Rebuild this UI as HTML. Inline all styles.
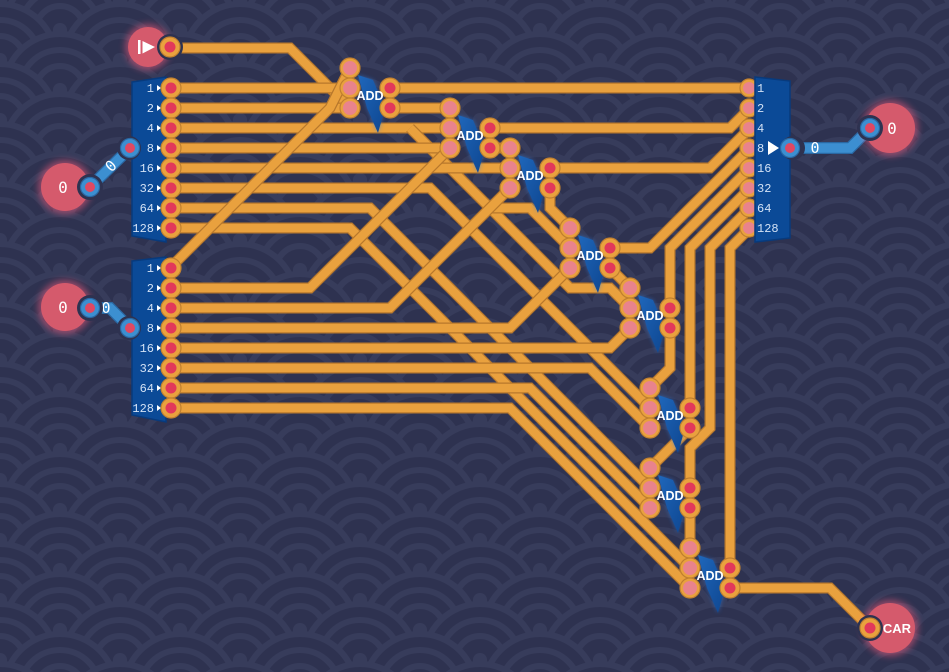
<!DOCTYPE html>
<html><head><meta charset="utf-8"><style>
html,body{margin:0;padding:0;background:#2e3250;}
svg{display:block}
.b{fill:none;stroke:#b8782c;stroke-width:11;stroke-linejoin:miter;stroke-linecap:butt}
.f{fill:none;stroke:#e9a13e;stroke-width:8.5;stroke-linejoin:miter;stroke-linecap:butt}
.bb{fill:none;stroke:#2a68a3;stroke-width:12;stroke-linejoin:miter;stroke-linecap:round}
.bf{fill:none;stroke:#3c8fd1;stroke-width:9.5;stroke-linejoin:miter;stroke-linecap:round}
.num{font-family:"Liberation Mono","DejaVu Sans Mono",monospace;font-size:12px;fill:#d3e2f5}
.add{font-family:"Liberation Sans",sans-serif;font-size:12.5px;font-weight:bold;fill:#ffffff;text-anchor:middle}
.big{font-family:"DejaVu Sans Mono","Liberation Mono",monospace;font-size:16px;fill:#ffffff;text-anchor:middle}
.wl{font-family:"DejaVu Sans Mono","Liberation Mono",monospace;font-size:15px;fill:#ffffff;text-anchor:middle}
</style></head><body>
<svg width="949" height="672" viewBox="0 0 949 672" xmlns="http://www.w3.org/2000/svg">
<defs>
<pattern id="waves" width="120" height="60" patternUnits="userSpaceOnUse">
<rect width="120" height="60" fill="#2e3250"/>
<g fill="#2e3250" stroke="#373c5b" stroke-width="6">
<g transform="translate(60,-30)"><circle r="56"/><circle r="40"/><circle r="24"/><circle r="7" fill="#373c5b" stroke="none"/></g>
<g transform="translate(0,0)"><circle r="56"/><circle r="40"/><circle r="24"/><circle r="7" fill="#373c5b" stroke="none"/></g>
<g transform="translate(120,0)"><circle r="56"/><circle r="40"/><circle r="24"/><circle r="7" fill="#373c5b" stroke="none"/></g>
<g transform="translate(60,30)"><circle r="56"/><circle r="40"/><circle r="24"/><circle r="7" fill="#373c5b" stroke="none"/></g>
<g transform="translate(0,60)"><circle r="56"/><circle r="40"/><circle r="24"/><circle r="7" fill="#373c5b" stroke="none"/></g>
<g transform="translate(120,60)"><circle r="56"/><circle r="40"/><circle r="24"/><circle r="7" fill="#373c5b" stroke="none"/></g>
<g transform="translate(60,90)"><circle r="56"/><circle r="40"/><circle r="24"/><circle r="7" fill="#373c5b" stroke="none"/></g>
</g>
</pattern>
<filter id="blur" x="-60%" y="-60%" width="220%" height="220%"><feGaussianBlur stdDeviation="3.5"/></filter>
<filter id="blur2" x="-60%" y="-60%" width="220%" height="220%"><feGaussianBlur stdDeviation="2"/></filter>
<linearGradient id="flag" x1="0" y1="0" x2="1" y2="1">
<stop offset="0" stop-color="#1f67bb"/><stop offset="1" stop-color="#0e4690"/>
</linearGradient>
</defs>

<rect width="949" height="672" fill="url(#waves)"/>

<!-- orange wires -->
<g>
<g><polyline class="b" points="170,48 290,48 350,108"/><polyline class="f" points="170,48 290,48 350,108"/></g>
<g><polyline class="b" points="170,88 350,88"/><polyline class="f" points="170,88 350,88"/></g>
<g><polyline class="b" points="170,108 350,108"/><polyline class="f" points="170,108 350,108"/></g>
<g><polyline class="b" points="170,128 450,128"/><polyline class="f" points="170,128 450,128"/></g>
<g><polyline class="b" points="410,128 570,288 610,288 630,308"/><polyline class="f" points="410,128 570,288 610,288 630,308"/></g>
<g><polyline class="b" points="170,148 440,148"/><polyline class="f" points="170,148 440,148"/></g>
<g><polyline class="b" points="450,168 490,208 530,208 570,248"/><polyline class="f" points="450,168 490,208 530,208 570,248"/></g>
<g><polyline class="b" points="170,168 510,168"/><polyline class="f" points="170,168 510,168"/></g>
<g><polyline class="b" points="170,188 430,188 650,408"/><polyline class="f" points="170,188 430,188 650,408"/></g>
<g><polyline class="b" points="170,208 370,208 650,488"/><polyline class="f" points="170,208 370,208 650,488"/></g>
<g><polyline class="b" points="170,228 350,228 690,568"/><polyline class="f" points="170,228 350,228 690,568"/></g>
<g><polyline class="b" points="170,268 330,108 350,68"/><polyline class="f" points="170,268 330,108 350,68"/></g>
<g><polyline class="b" points="170,288 310,288 450,148"/><polyline class="f" points="170,288 310,288 450,148"/></g>
<g><polyline class="b" points="170,308 390,308 510,188"/><polyline class="f" points="170,308 390,308 510,188"/></g>
<g><polyline class="b" points="170,328 510,328 570,268"/><polyline class="f" points="170,328 510,328 570,268"/></g>
<g><polyline class="b" points="170,348 610,348 630,328"/><polyline class="f" points="170,348 610,348 630,328"/></g>
<g><polyline class="b" points="170,368 590,368 650,428"/><polyline class="f" points="170,368 590,368 650,428"/></g>
<g><polyline class="b" points="170,388 530,388 650,508"/><polyline class="f" points="170,388 530,388 650,508"/></g>
<g><polyline class="b" points="170,408 510,408 690,588"/><polyline class="f" points="170,408 510,408 690,588"/></g>

<g><polyline class="b" points="390,88 750,88"/><polyline class="f" points="390,88 750,88"/></g>
<g><polyline class="b" points="390,108 450,108"/><polyline class="f" points="390,108 450,108"/></g>
<g><polyline class="b" points="490,128 730,128 750,108"/><polyline class="f" points="490,128 730,128 750,108"/></g>
<g><polyline class="b" points="490,148 510,148"/><polyline class="f" points="490,148 510,148"/></g>
<g><polyline class="b" points="550,168 710,168 750,128"/><polyline class="f" points="550,168 710,168 750,128"/></g>
<g><polyline class="b" points="550,188 550,208 570,228"/><polyline class="f" points="550,188 550,208 570,228"/></g>
<g><polyline class="b" points="610,248 650,248 750,148"/><polyline class="f" points="610,248 650,248 750,148"/></g>
<g><polyline class="b" points="610,268 630,288"/><polyline class="f" points="610,268 630,288"/></g>
<g><polyline class="b" points="670,308 670,248 750,168"/><polyline class="f" points="670,308 670,248 750,168"/></g>
<g><polyline class="b" points="670,328 670,368 650,388"/><polyline class="f" points="670,328 670,368 650,388"/></g>
<g><polyline class="b" points="690,408 690,248 750,188"/><polyline class="f" points="690,408 690,248 750,188"/></g>
<g><polyline class="b" points="690,428 650,468"/><polyline class="f" points="690,428 650,468"/></g>
<g><polyline class="b" points="690,488 690,448 710,428 710,248 750,208"/><polyline class="f" points="690,488 690,448 710,428 710,248 750,208"/></g>
<g><polyline class="b" points="690,508 690,548"/><polyline class="f" points="690,508 690,548"/></g>
<g><polyline class="b" points="730,568 730,248 750,228"/><polyline class="f" points="730,568 730,248 750,228"/></g>
<g><polyline class="b" points="730,588 830,588 870,628"/><polyline class="f" points="730,588 830,588 870,628"/></g>
</g>

<!-- blue wires -->
<g><polyline class="bb" points="90,187 130,148"/><polyline class="bf" points="90,187 130,148"/></g>
<g><polyline class="bb" points="90,308 110,308 130,328"/><polyline class="bf" points="90,308 110,308 130,328"/></g>
<g><polyline class="bb" points="790,148 850,148 870,128"/><polyline class="bf" points="790,148 850,148 870,128"/></g>
<text class="wl" x="111" y="171" transform="rotate(-45 111 166)">0</text>
<text class="wl" x="106" y="313">0</text>
<text class="wl" x="815" y="153">0</text>

<!-- red IO circles -->
<g>
<circle cx="148" cy="47" r="23" fill="#ff5f80" opacity=".5" filter="url(#blur)"/>
<circle cx="148" cy="47" r="20" fill="#d55a6c"/>
<circle cx="65" cy="187" r="27" fill="#ff5f80" opacity=".5" filter="url(#blur)"/>
<circle cx="65" cy="187" r="24" fill="#d55a6c"/>
<circle cx="65" cy="307" r="27" fill="#ff5f80" opacity=".5" filter="url(#blur)"/>
<circle cx="65" cy="307" r="24" fill="#d55a6c"/>
<circle cx="890" cy="128" r="28" fill="#ff5f80" opacity=".5" filter="url(#blur)"/>
<circle cx="890" cy="128" r="25" fill="#d55a6c"/>
<circle cx="890" cy="628" r="28" fill="#ff5f80" opacity=".5" filter="url(#blur)"/>
<circle cx="890" cy="628" r="25" fill="#d55a6c"/>
</g>
<!-- notches -->
<g fill="#2e3250">
<circle cx="170" cy="47" r="13"/>
<circle cx="90" cy="187" r="13"/>
<circle cx="90" cy="308" r="13"/>
<circle cx="870" cy="128" r="13"/>
<circle cx="870" cy="628" r="13"/>
</g>
<rect x="138" y="40" width="2.5" height="14" fill="#ffffff"/>
<polygon points="142.5,41 155,47 142.5,53.5" fill="#ffffff"/>
<text class="big" x="63" y="193">0</text>
<text class="big" x="63" y="313">0</text>
<text class="big" x="892" y="134">0</text>
<text x="897" y="633" font-family="Liberation Sans, sans-serif" font-size="13" font-weight="bold" fill="#ffffff" text-anchor="middle">CAR</text>

<!-- splitters -->
<polygon points="132,82 166,77 166,242 132,236" fill="#0b4a97" stroke="#083a7c" stroke-width="1.5"/>
<polygon points="132,261 166,257 166,422 132,415" fill="#0b4a97" stroke="#083a7c" stroke-width="1.5"/>
<g fill="#2e3250">
<circle cx="129" cy="148" r="12"/>
<circle cx="129" cy="328" r="12"/>
</g>
<g class="num" text-anchor="end">
<text x="154" y="92">1</text><text x="154" y="112">2</text><text x="154" y="132">4</text><text x="154" y="152">8</text>
<text x="154" y="172">16</text><text x="154" y="192">32</text><text x="154" y="212">64</text><text x="154" y="232">128</text>
<text x="154" y="272">1</text><text x="154" y="292">2</text><text x="154" y="312">4</text><text x="154" y="332">8</text>
<text x="154" y="352">16</text><text x="154" y="372">32</text><text x="154" y="392">64</text><text x="154" y="412">128</text>
</g>
<g fill="#ffffff">
<polygon points="157,85 161,88 157,91"/><polygon points="157,105 161,108 157,111"/><polygon points="157,125 161,128 157,131"/><polygon points="157,145 161,148 157,151"/>
<polygon points="157,165 161,168 157,171"/><polygon points="157,185 161,188 157,191"/><polygon points="157,205 161,208 157,211"/><polygon points="157,225 161,228 157,231"/>
<polygon points="157,265 161,268 157,271"/><polygon points="157,285 161,288 157,291"/><polygon points="157,305 161,308 157,311"/><polygon points="157,325 161,328 157,331"/>
<polygon points="157,345 161,348 157,351"/><polygon points="157,365 161,368 157,371"/><polygon points="157,385 161,388 157,391"/><polygon points="157,405 161,408 157,411"/>
</g>

<!-- ADD gates -->
<g id="adds">
<g transform="translate(350,68)"><polygon points="8,7 23,12 35,40 28,65 17,40" fill="#2f78d8" opacity=".6" filter="url(#blur2)"/><polygon points="8,7 23,12 35,40 28,65 17,40" fill="url(#flag)"/></g>
<g transform="translate(450,108)"><polygon points="8,7 23,12 35,40 28,65 17,40" fill="#2f78d8" opacity=".6" filter="url(#blur2)"/><polygon points="8,7 23,12 35,40 28,65 17,40" fill="url(#flag)"/></g>
<g transform="translate(510,148)"><polygon points="8,7 23,12 35,40 28,65 17,40" fill="#2f78d8" opacity=".6" filter="url(#blur2)"/><polygon points="8,7 23,12 35,40 28,65 17,40" fill="url(#flag)"/></g>
<g transform="translate(570,228)"><polygon points="8,7 23,12 35,40 28,65 17,40" fill="#2f78d8" opacity=".6" filter="url(#blur2)"/><polygon points="8,7 23,12 35,40 28,65 17,40" fill="url(#flag)"/></g>
<g transform="translate(630,288)"><polygon points="8,7 23,12 35,40 28,65 17,40" fill="#2f78d8" opacity=".6" filter="url(#blur2)"/><polygon points="8,7 23,12 35,40 28,65 17,40" fill="url(#flag)"/></g>
<g transform="translate(650,388)"><polygon points="8,7 23,12 35,40 28,65 17,40" fill="#2f78d8" opacity=".6" filter="url(#blur2)"/><polygon points="8,7 23,12 35,40 28,65 17,40" fill="url(#flag)"/></g>
<g transform="translate(650,468)"><polygon points="8,7 23,12 35,40 28,65 17,40" fill="#2f78d8" opacity=".6" filter="url(#blur2)"/><polygon points="8,7 23,12 35,40 28,65 17,40" fill="url(#flag)"/></g>
<g transform="translate(690,548)"><polygon points="8,7 23,12 35,40 28,65 17,40" fill="#2f78d8" opacity=".6" filter="url(#blur2)"/><polygon points="8,7 23,12 35,40 28,65 17,40" fill="url(#flag)"/></g>
</g>

<!-- pins -->
<g>
<g fill="#e9a13e" stroke="#c0802f" stroke-width="1.2">
<circle cx="170" cy="47" r="10"/>
<circle cx="171" cy="88" r="10"/><circle cx="171" cy="108" r="10"/><circle cx="171" cy="128" r="10"/><circle cx="171" cy="148" r="10"/>
<circle cx="171" cy="168" r="10"/><circle cx="171" cy="188" r="10"/><circle cx="171" cy="208" r="10"/><circle cx="171" cy="228" r="10"/>
<circle cx="171" cy="268" r="10"/><circle cx="171" cy="288" r="10"/><circle cx="171" cy="308" r="10"/><circle cx="171" cy="328" r="10"/>
<circle cx="171" cy="348" r="10"/><circle cx="171" cy="368" r="10"/><circle cx="171" cy="388" r="10"/><circle cx="171" cy="408" r="10"/>
<circle cx="870" cy="628" r="10"/>
<circle cx="390" cy="88" r="10"/><circle cx="390" cy="108" r="10"/>
<circle cx="490" cy="128" r="10"/><circle cx="490" cy="148" r="10"/>
<circle cx="550" cy="168" r="10"/><circle cx="550" cy="188" r="10"/>
<circle cx="610" cy="248" r="10"/><circle cx="610" cy="268" r="10"/>
<circle cx="670" cy="308" r="10"/><circle cx="670" cy="328" r="10"/>
<circle cx="690" cy="408" r="10"/><circle cx="690" cy="428" r="10"/>
<circle cx="690" cy="488" r="10"/><circle cx="690" cy="508" r="10"/>
<circle cx="730" cy="568" r="10"/><circle cx="730" cy="588" r="10"/>
<circle cx="350" cy="68" r="10"/><circle cx="350" cy="88" r="10"/><circle cx="350" cy="108" r="10"/>
<circle cx="450" cy="108" r="10"/><circle cx="450" cy="128" r="10"/><circle cx="450" cy="148" r="10"/>
<circle cx="510" cy="148" r="10"/><circle cx="510" cy="168" r="10"/><circle cx="510" cy="188" r="10"/>
<circle cx="570" cy="228" r="10"/><circle cx="570" cy="248" r="10"/><circle cx="570" cy="268" r="10"/>
<circle cx="630" cy="288" r="10"/><circle cx="630" cy="308" r="10"/><circle cx="630" cy="328" r="10"/>
<circle cx="650" cy="388" r="10"/><circle cx="650" cy="408" r="10"/><circle cx="650" cy="428" r="10"/>
<circle cx="650" cy="468" r="10"/><circle cx="650" cy="488" r="10"/><circle cx="650" cy="508" r="10"/>
<circle cx="690" cy="548" r="10"/><circle cx="690" cy="568" r="10"/><circle cx="690" cy="588" r="10"/>
<circle cx="749" cy="88" r="9"/><circle cx="749" cy="108" r="9"/><circle cx="749" cy="128" r="9"/><circle cx="749" cy="148" r="9"/>
<circle cx="749" cy="168" r="9"/><circle cx="749" cy="188" r="9"/><circle cx="749" cy="208" r="9"/><circle cx="749" cy="228" r="9"/>
</g>
<g fill="#e2385a">
<circle cx="170" cy="47" r="5.5"/>
<circle cx="171" cy="88" r="5.5"/><circle cx="171" cy="108" r="5.5"/><circle cx="171" cy="128" r="5.5"/><circle cx="171" cy="148" r="5.5"/>
<circle cx="171" cy="168" r="5.5"/><circle cx="171" cy="188" r="5.5"/><circle cx="171" cy="208" r="5.5"/><circle cx="171" cy="228" r="5.5"/>
<circle cx="171" cy="268" r="5.5"/><circle cx="171" cy="288" r="5.5"/><circle cx="171" cy="308" r="5.5"/><circle cx="171" cy="328" r="5.5"/>
<circle cx="171" cy="348" r="5.5"/><circle cx="171" cy="368" r="5.5"/><circle cx="171" cy="388" r="5.5"/><circle cx="171" cy="408" r="5.5"/>
<circle cx="870" cy="628" r="5.5"/>
<circle cx="390" cy="88" r="5.5"/><circle cx="390" cy="108" r="5.5"/>
<circle cx="490" cy="128" r="5.5"/><circle cx="490" cy="148" r="5.5"/>
<circle cx="550" cy="168" r="5.5"/><circle cx="550" cy="188" r="5.5"/>
<circle cx="610" cy="248" r="5.5"/><circle cx="610" cy="268" r="5.5"/>
<circle cx="670" cy="308" r="5.5"/><circle cx="670" cy="328" r="5.5"/>
<circle cx="690" cy="408" r="5.5"/><circle cx="690" cy="428" r="5.5"/>
<circle cx="690" cy="488" r="5.5"/><circle cx="690" cy="508" r="5.5"/>
<circle cx="730" cy="568" r="5.5"/><circle cx="730" cy="588" r="5.5"/>
</g>
<g fill="#e9838c">
<circle cx="350" cy="68" r="7"/><circle cx="350" cy="88" r="7"/><circle cx="350" cy="108" r="7"/>
<circle cx="450" cy="108" r="7"/><circle cx="450" cy="128" r="7"/><circle cx="450" cy="148" r="7"/>
<circle cx="510" cy="148" r="7"/><circle cx="510" cy="168" r="7"/><circle cx="510" cy="188" r="7"/>
<circle cx="570" cy="228" r="7"/><circle cx="570" cy="248" r="7"/><circle cx="570" cy="268" r="7"/>
<circle cx="630" cy="288" r="7"/><circle cx="630" cy="308" r="7"/><circle cx="630" cy="328" r="7"/>
<circle cx="650" cy="388" r="7"/><circle cx="650" cy="408" r="7"/><circle cx="650" cy="428" r="7"/>
<circle cx="650" cy="468" r="7"/><circle cx="650" cy="488" r="7"/><circle cx="650" cy="508" r="7"/>
<circle cx="690" cy="548" r="7"/><circle cx="690" cy="568" r="7"/><circle cx="690" cy="588" r="7"/>
<circle cx="749" cy="88" r="6"/><circle cx="749" cy="108" r="6"/><circle cx="749" cy="128" r="6"/><circle cx="749" cy="148" r="6"/>
<circle cx="749" cy="168" r="6"/><circle cx="749" cy="188" r="6"/><circle cx="749" cy="208" r="6"/><circle cx="749" cy="228" r="6"/>
</g>
</g>

<!-- output byte (drawn over its pins) -->
<polygon points="755,77 790,81 790,238 755,242" fill="#0b4a97" stroke="#083a7c" stroke-width="1.5"/>
<circle cx="793" cy="148" r="12" fill="#2e3250"/>
<polygon points="768,141 779,148 768,155" fill="#ffffff"/>
<g class="num">
<text x="757" y="92">1</text><text x="757" y="112">2</text><text x="757" y="132">4</text><text x="757" y="152">8</text>
<text x="757" y="172">16</text><text x="757" y="192">32</text><text x="757" y="212">64</text><text x="757" y="232">128</text>
</g>

<!-- ADD labels on top -->
<g class="add">
<text x="370" y="100">ADD</text>
<text x="470" y="140">ADD</text>
<text x="530" y="180">ADD</text>
<text x="590" y="260">ADD</text>
<text x="650" y="320">ADD</text>
<text x="670" y="420">ADD</text>
<text x="670" y="500">ADD</text>
<text x="710" y="580">ADD</text>
</g>

<!-- blue pins -->
<g fill="#3c8fd1" stroke="#2a68a3" stroke-width="1.2">
<circle cx="90" cy="187" r="9.5"/><circle cx="130" cy="148" r="9.5"/>
<circle cx="90" cy="308" r="9.5"/><circle cx="130" cy="328" r="9.5"/>
<circle cx="790" cy="148" r="9.5"/><circle cx="870" cy="128" r="9.5"/>
</g>
<g fill="#e04862">
<circle cx="90" cy="187" r="5"/><circle cx="130" cy="148" r="5"/>
<circle cx="90" cy="308" r="5"/><circle cx="130" cy="328" r="5"/>
<circle cx="790" cy="148" r="5"/><circle cx="870" cy="128" r="5"/>
</g>
</svg>
</body></html>
